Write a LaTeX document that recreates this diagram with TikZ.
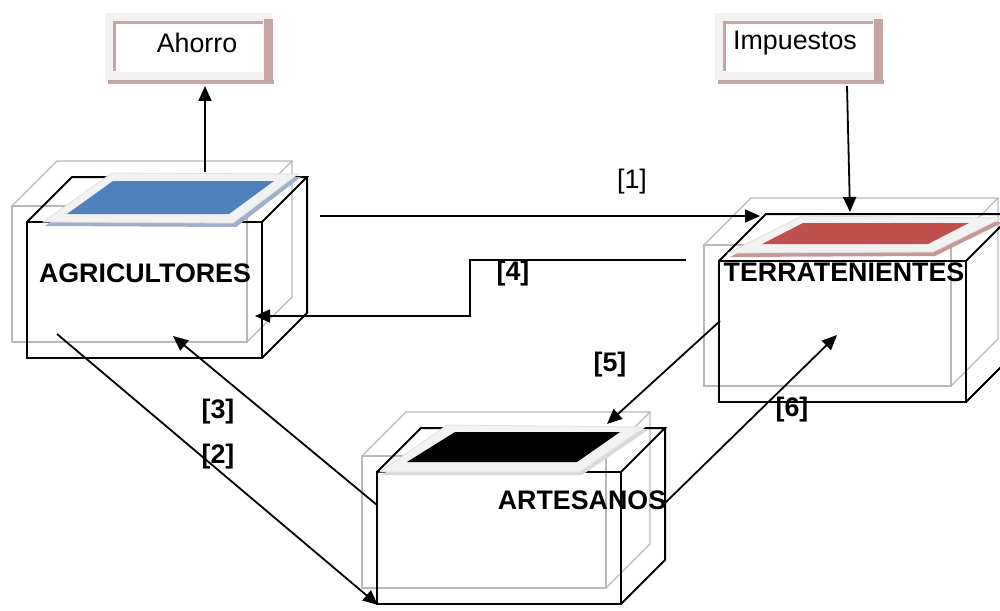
\documentclass[tikz,border=0pt]{standalone}
\usepackage{fontspec}
\setmainfont{Liberation Sans}
\usetikzlibrary{arrows.meta,positioning,calc}
\definecolor{azulplaca}{RGB}{79,129,189}
\definecolor{rojoplaca}{RGB}{192,80,77}
\definecolor{sombraazul}{RGB}{160,176,204}
\definecolor{sombraroja}{RGB}{200,150,150}
\definecolor{marron}{RGB}{200,165,165}
% caja con su sombra gris: esquina frontal, ancho, alto, fondo
\newcommand{\cajon}[5]{%
  \draw[fantasma] (#1-15,#2-16) rectangle ++(#3,#4);
  \draw[fantasma] (#1-15,#2-16) -- ++(#5,-#5) -- ++(#3,0) -- ++(-#5,#5);
  \draw[fantasma] (#1-15+#3+#5,#2-16-#5) -- ++(0,#4) -- ++(-#5,#5);
  \draw[caja] (#1,#2) rectangle ++(#3,#4);
  \draw[caja] (#1,#2) -- ++(#5,-#5) -- ++(#3,0) -- ++(-#5,#5);
  \draw[caja] (#1+#3+#5,#2-#5) -- ++(0,#4) -- ++(-#5,#5);
}
% recuadro de texto arriba
\newcommand{\recuadro}[2]{%
  \fill[marron] (#1+3,#2+67) rectangle ++(166,4);
  \fill[gray!10] (#1,#2) rectangle ++(167,67);
  \fill[white] (#1+8,#2+9) rectangle ++(150,50);
  \draw[marron,line width=1.5pt] (#1+9,#2+58) -- ++(0,-48) -- ++(149,0);
  \fill[marron] (#1+159,#2+6) rectangle ++(9,63);
}
\begin{document}
\begin{tikzpicture}[x=0.5pt,y=-0.5pt,
      flecha/.style={draw=black,line width=0.9pt,-{Triangle[length=7.5pt,width=6.5pt]}},
      rotulo/.style={font=\fontsize{13.4}{15}\selectfont\bfseries,inner sep=0pt},
      numero/.style={font=\fontsize{13.4}{15}\selectfont,inner sep=0pt},
      fantasma/.style={draw=gray!55,line width=0.6pt},
      caja/.style={draw=black,line width=1pt},
      marco/.style={fill=gray!10,draw=gray!25,line width=0.4pt}]
      \useasboundingbox (0,0) rectangle (1000,610);
      \clip (0,0) rectangle (1000,610);
      % recuadros
      \recuadro{105}{13}
      \recuadro{715}{13}
      \node[numero] (ahorro) at (197,43) {Ahorro};
      \node[numero] (impuestos) at (795,43) {Impuestos};
      % cajas
      \cajon{27}{222}{235}{136}{45}
      \cajon{719}{261}{247}{141}{47}
      \cajon{377}{472}{244}{132}{44}
      % placas
      \fill[sombraazul] (45,226) -- (114,177) -- (301,177) -- (236,227) -- cycle;
      \path[marco] (43,222) -- (112,173) -- (298,174) -- (233,223) -- cycle;
      \fill[azulplaca] (67,214) -- (113,181) -- (274,181) -- (229,214) -- cycle;
      \fill[sombraroja] (730,257) -- (804,220) -- (1004,222) -- (935,256) -- cycle;
      \path[marco] (728,253) -- (802,216) -- (1002,218) -- (933,252) -- cycle;
      \fill[rojoplaca] (762,244) -- (803,223) -- (969,223) -- (928,244) -- cycle;
      \fill[gray!30] (382,475) -- (449,428) -- (648,430) -- (582,475) -- cycle;
      \path[marco] (380,472) -- (447,425) -- (645,427) -- (580,472) -- cycle;
      \fill[black] (407,462) -- (455,432) -- (620,432) -- (577,462) -- cycle;
      % rotulos
      \node[rotulo] (agri) at (145,273) {AGRICULTORES};
      \node[rotulo] (terra) at (844,272) {TERRATENIENTES};
      \node[rotulo] (arte) at (582,500) {ARTESANOS};
      % extremos de las flechas
      \coordinate (a0) at (205,172);  \coordinate (b0) at (205,86);
      \coordinate (a1) at (847,86);   \coordinate (b1) at (850,212);
      \coordinate (s1) at (320,216);  \coordinate (t1) at (760,216);
      \coordinate (s4) at (686,260);  \coordinate (q4) at (470,288);
      \coordinate (t4) at (255,316);
      \coordinate (s2) at (57,334);   \coordinate (t2) at (378,605);
      \coordinate (s3) at (377,505);  \coordinate (t3) at (173,336);
      \coordinate (s5) at (720,321);  \coordinate (t5) at (607,424);
      \coordinate (s6) at (665,503);  \coordinate (t6) at (837,335);
      \draw[flecha] (a0) -- (b0);
      \draw[flecha] (a1) -- (b1);
      \draw[flecha] (s1) -- (t1);
      \draw[flecha] (s4) -| (q4) |- (t4);
      \draw[flecha] (s2) -- (t2);
      \draw[flecha] (s3) -- (t3);
      \draw[flecha] (s5) -- (t5);
      \draw[flecha] (s6) -- (t6);
      \node[numero] (n1) at (632,182) {[1]};
      \node[rotulo] (n4) at (513,274) {[4]};
      \node[rotulo] (n3) at (218,412) {[3]};
      \node[rotulo] (n2) at (218,457) {[2]};
      \node[rotulo] (n5) at (610,365) {[5]};
      \node[rotulo] (n6) at (792,410) {[6]};
    \end{tikzpicture}
\end{document}
